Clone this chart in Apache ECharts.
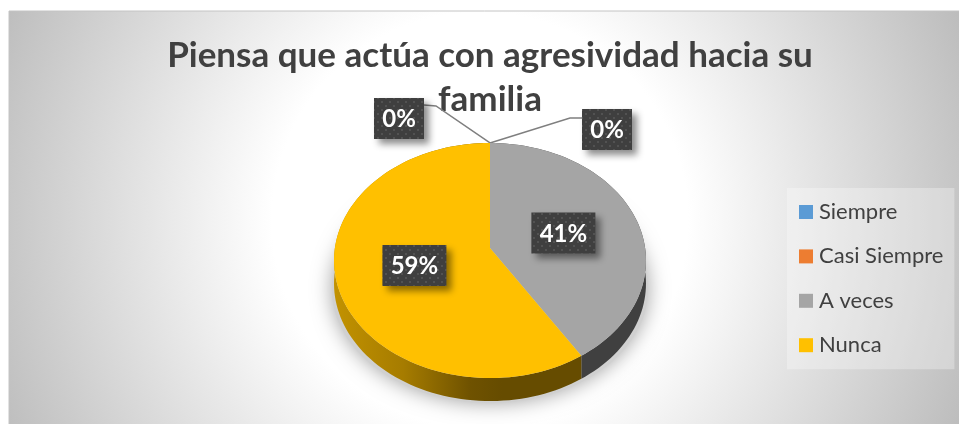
<!DOCTYPE html>
<html>
<head>
<meta charset="utf-8">
<style>
  html, body { margin: 0; padding: 0; background: #fff; }
  #chart { width: 959px; height: 424px; }
</style>
<script src="https://cdn.jsdelivr.net/npm/echarts@6/dist/echarts.min.js"></script>
</head>
<body>
<div id="chart"></div>
<script>
const titleText = 'Piensa que actúa con agresividad hacia su\nfamilia'
const categories = ['Siempre', 'Casi Siempre', 'A veces', 'Nunca']
const values = [0, 0, 41, 59]
const colors = ['#5B9BD5', '#ED7D31', '#A5A5A5', '#FFC000']
const sideColors = [
  '#2E5F8C',
  '#8C4A1A',
  '#404040',
  // la cara lateral del sector amarillo se oscurece hacia el frente
  new echarts.graphic.LinearGradient(0, 0, 1, 0, [
    { offset: 0, color: '#C29200' },
    { offset: 0.28, color: '#A67C00' },
    { offset: 0.55, color: '#6F5200' },
    { offset: 0.68, color: '#664C00' },
    { offset: 1, color: '#664C00' },
  ]),
]

// proyeccion en perspectiva del disco
const pie = { cx: 490, cy: 248, ax: 155.1, ay: 116.2, k: 0.1064, depth: 23 }
const project = (deg, r = 1) => {
  const rad = (deg * Math.PI) / 180
  const u = Math.sin(rad) * r
  const v = -Math.cos(rad) * r
  const w = 1 - pie.k * v
  return [pie.cx + (pie.ax * u) / w, pie.cy + (pie.ay * v) / w]
}

// codos de las lineas guia de las etiquetas en 0 %
const leaders = {
  0: { elbow: [80, -25], end: [92, -25], box: [117, -13.5] },
  1: { elbow: [-54, -37], end: [-66, -38], box: [-91, -24.5] },
}
const boxHeight = 41

const makeDots = () => {
  const c = document.createElement('canvas')
  c.width = 8
  c.height = 8
  const g = c.getContext('2d')
  g.fillStyle = '#3F3F3F'
  g.fillRect(0, 0, 8, 8)
  g.fillStyle = '#525252'
  g.fillRect(1, 1, 2, 2)
  g.fillRect(5, 5, 2, 2)
  return c
}
const dots = { image: makeDots(), repeat: 'repeat' }

const labelBox = (text, x, y) => {
  const width = text.length > 2 ? 64 : 50
  return [
    {
      type: 'rect',
      shape: { x: x - width / 2, y: y - boxHeight / 2, width, height: boxHeight },
      style: {
        fill: dots,
        shadowBlur: 7,
        shadowOffsetX: 5,
        shadowOffsetY: 5,
        shadowColor: 'rgba(0,0,0,0.45)',
      },
    },
    {
      type: 'text',
      style: {
        text,
        x,
        y: y + 1,
        fill: '#fff',
        font: 'bold 24px Lato',
        align: 'center',
        verticalAlign: 'middle',
      },
    },
  ]
}

const renderSlice = (params, api) => {
  const i = params.seriesIndex
  const start = (api.value(0) * 360) / 100
  const sweep = (api.value(1) * 360) / 100
  const end = start + sweep
  const children = []
  if (sweep > 0) {
    const rim = []
    for (let a = start; a <= end; a += 2) rim.push(project(a))
    rim.push(project(end))
    children.push({
      type: 'polygon',
      shape: { points: rim.concat(rim.map((p) => [p[0], p[1] + pie.depth]).reverse()) },
      style: { fill: sideColors[i] },
    })
    children.push({
      type: 'polygon',
      shape: { points: [[pie.cx, pie.cy]].concat(rim) },
      style: { fill: colors[i] },
    })
    const p = project(start + sweep / 2, 0.5)
    children.push(...labelBox(api.value(1) + '%', p[0], p[1] + 1))
  } else {
    const o = project(start)
    const line = leaders[i]
    children.push({
      type: 'polyline',
      shape: {
        points: [
          o,
          [o[0] + line.elbow[0], o[1] + line.elbow[1]],
          [o[0] + line.end[0], o[1] + line.end[1]],
        ],
      },
      style: { stroke: '#7F7F7F', lineWidth: 1.5, fill: 'none' },
    })
    children.push(...labelBox(api.value(1) + '%', o[0] + line.box[0], o[1] + line.box[1]))
  }
  return { type: 'group', children }
}

let acc = 0
const series = categories.map((name, i) => {
  const row = [acc, values[i]]
  acc += values[i]
  return {
    type: 'custom',
    name,
    coordinateSystem: 'none',
    itemStyle: { color: colors[i] },
    data: [row],
    renderItem: renderSlice,
    animation: false,
    silent: true,
  }
})

const chart = echarts.init(document.getElementById('chart'), null, { renderer: 'canvas' })
chart.setOption({
  animation: false,
  backgroundColor: '#fff',
  title: {
    text: titleText,
    left: 485,
    top: 29,
    textAlign: 'center',
    z: 1,
    textStyle: {
      fontFamily: 'Lato',
      fontWeight: 'bold',
      fontSize: 35,
      lineHeight: 44,
      color: '#404040',
    },
  },
  legend: {
    orient: 'vertical',
    left: 787,
    top: 188,
    width: 168,
    height: 181,
    padding: [10, 11, 10, 12],
    itemWidth: 14,
    itemHeight: 14,
    itemGap: 16.4,
    icon: 'rect',
    backgroundColor: 'rgba(255,255,255,0.3)',
    selectedMode: false,
    data: categories,
    textStyle: { fontFamily: 'Lato', fontSize: 22, lineHeight: 28, color: '#404040', padding: [0, 0, 0, 1] },
  },
  graphic: {
    elements: [
      {
        type: 'rect',
        z: -20,
        silent: true,
        shape: { x: 9, y: 11, width: 960, height: 430 },
        style: {
          fill: new echarts.graphic.RadialGradient(480, 220, 520, [
            { offset: 0, color: '#FFFFFF' },
            { offset: 0.4, color: '#FFFFFF' },
            { offset: 1, color: '#BDBDBD' },
          ], true),
          stroke: '#C4C4C4',
          lineWidth: 1,
        },
      },
      {
        type: 'ellipse',
        z: -10,
        silent: true,
        shape: { cx: 490, cy: 289, rx: 158, ry: 114 },
        style: { fill: '#D0D0D0', shadowBlur: 20, shadowColor: 'rgba(0,0,0,0.36)' },
      },
    ],
  },
  series,
})
</script>
</body>
</html>
